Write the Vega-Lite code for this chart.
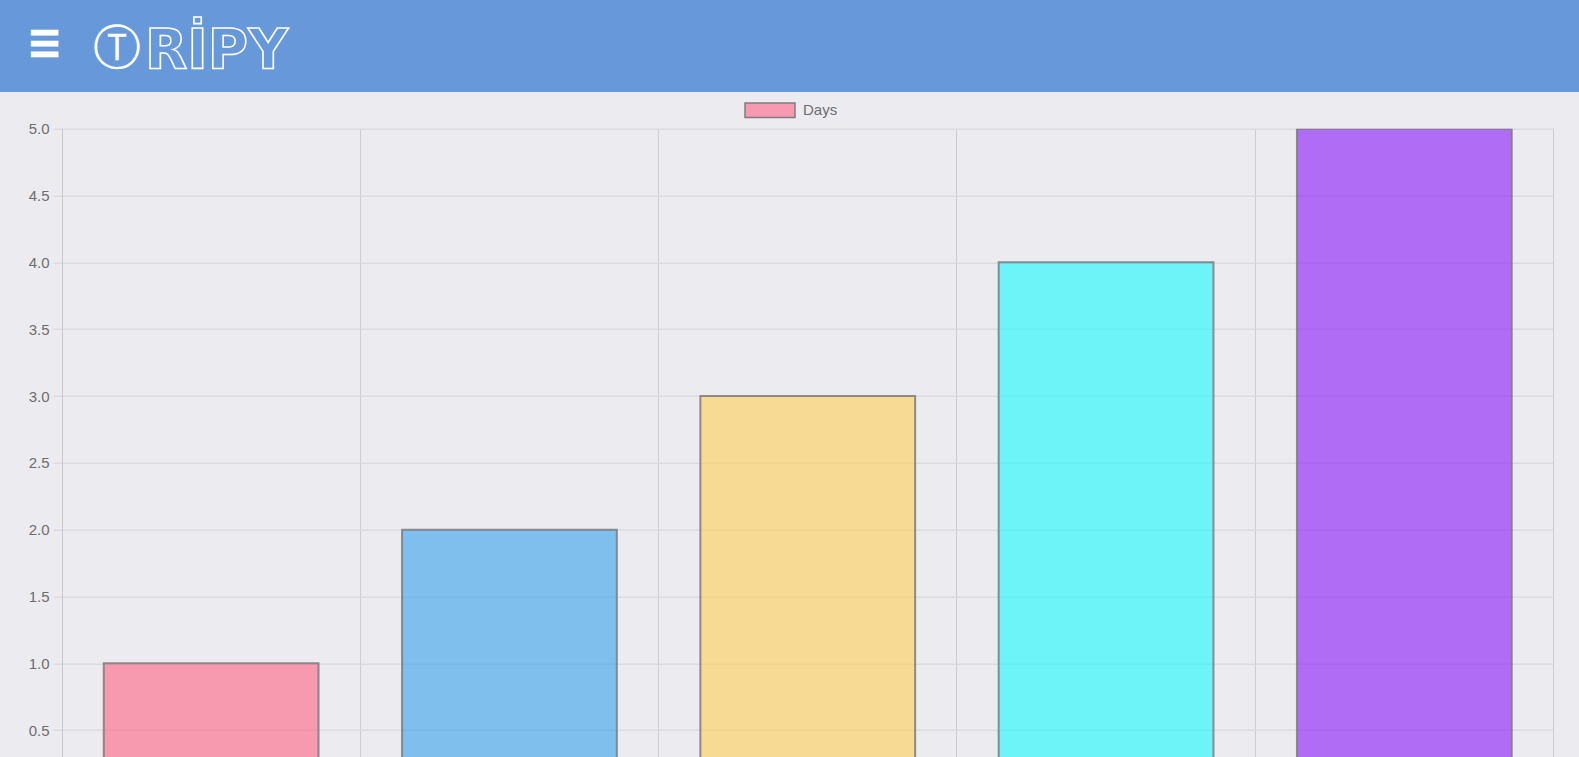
{
  "$schema": "https://vega.github.io/schema/vega-lite/v6.json",
  "background": "#ebebf0",
  "padding": 0,
  "autosize": {"type": "pad"},
  "config": {"view": {"stroke": null}, "font": "Liberation Sans"},
  "spacing": 36.7,
  "bounds": "flush",
  "vconcat": [
    {
      "width": 1579,
      "height": 92,
      "view": {"fill": "#6799da", "stroke": null},
      "data": {"values": [{"part": "menu", "text": "☰"}, {"part": "circle", "text": "Ⓣ"}, {"part": "logo", "text": "RİPY"}]},
      "layer": [
        {
          "transform": [{"filter": "datum.part === 'menu'"}],
          "mark": {"type": "text", "fontSize": 34, "fill": "#ffffff", "stroke": "#ffffff", "strokeWidth": 2.5, "align": "center", "baseline": "middle", "font": "DejaVu Sans", "fontWeight": "bold"},
          "encoding": {"text": {"field": "text"}, "x": {"value": 44.5}, "y": {"value": 46}}
        },
        {
          "transform": [{"filter": "datum.part === 'circle'"}],
          "mark": {"type": "text", "fontSize": 48, "fill": "#ffffff", "align": "left", "baseline": "middle", "font": "DejaVu Sans", "fontWeight": "normal"},
          "encoding": {"text": {"field": "text"}, "x": {"value": 93}, "y": {"value": 50}}
        },
        {
          "transform": [{"filter": "datum.part === 'logo'"}],
          "mark": {"type": "text", "fontSize": 55, "align": "left", "baseline": "alphabetic", "font": "DejaVu Sans", "fontWeight": "bold", "fill": "#6799da", "fillOpacity": 0, "stroke": "#ffffff", "strokeWidth": 1.6},
          "encoding": {"text": {"field": "text"}, "x": {"value": 145}, "y": {"value": 68}}
        }
      ]
    },
    {
      "width": 1579,
      "height": 628.3,
      "data": {"values": [
        {"trip": "Trip 1", "days": 1},
        {"trip": "Trip 2", "days": 2},
        {"trip": "Trip 3", "days": 3},
        {"trip": "Trip 4", "days": 4},
        {"trip": "Trip 5", "days": 5}
      ]},
      "mark": {"type": "bar", "clip": true, "width": {"band": 0.72}, "strokeWidth": 2, "strokeOpacity": 0.85, "fillOpacity": 0.6},
      "encoding": {
        "x": {
          "field": "trip", "type": "nominal", "sort": null,
          "scale": {"type": "band", "range": [62, 1553.5], "paddingInner": 0, "paddingOuter": 0},
          "axis": {"bandPosition": 1, "grid": true, "gridColor": "#cdcdd2", "labels": false, "ticks": false, "domain": false, "title": null}
        },
        "y": {
          "field": "days", "type": "quantitative",
          "scale": {"domain": [0.299, 5], "nice": false, "zero": false},
          "axis": {"values": [0.5, 1, 1.5, 2, 2.5, 3, 3.5, 4, 4.5, 5], "format": ".1f", "offset": -62, "title": null,
                   "gridColor": "#d4d4d9", "domainColor": "#c8c8cd", "tickColor": "#d4d4d9", "tickSize": 9,
                   "labelPadding": 4, "labelFontSize": 15, "labelColor": "#6e6e6e", "labelFont": "Liberation Sans"}
        },
        "color": {
          "field": "trip", "type": "nominal", "sort": null,
          "scale": {"range": ["#ff6384", "#36a2eb", "#ffce56", "#17fafd", "#8917f8"]},
          "legend": null
        },
        "stroke": {
          "datum": "Days",
          "scale": {"range": ["#7d7d7d"]},
          "legend": {
            "orient": "none", "legendX": 744, "legendY": 84.3, "title": null, "padding": 0,
            "symbolType": "M-1,-0.29H1V0.29H-1Z", "symbolSize": 2500,
            "symbolFillColor": "#f799b0", "symbolStrokeColor": "#8c8c8c", "symbolStrokeWidth": 1.5, "symbolOpacity": 1,
            "labelFontSize": 15, "labelColor": "#6e6e6e", "labelOffset": 7, "labelFont": "Liberation Sans",
            "encode": {"symbols": {"enter": {"fill": {"value": "#f799b0"}}, "update": {"fill": {"value": "#f799b0"}, "fillOpacity": {"value": 1}, "stroke": {"value": "#8c8c8c"}, "strokeWidth": {"value": 1.5}, "opacity": {"value": 1}}}}
          }
        }
      }
    }
  ]
}
